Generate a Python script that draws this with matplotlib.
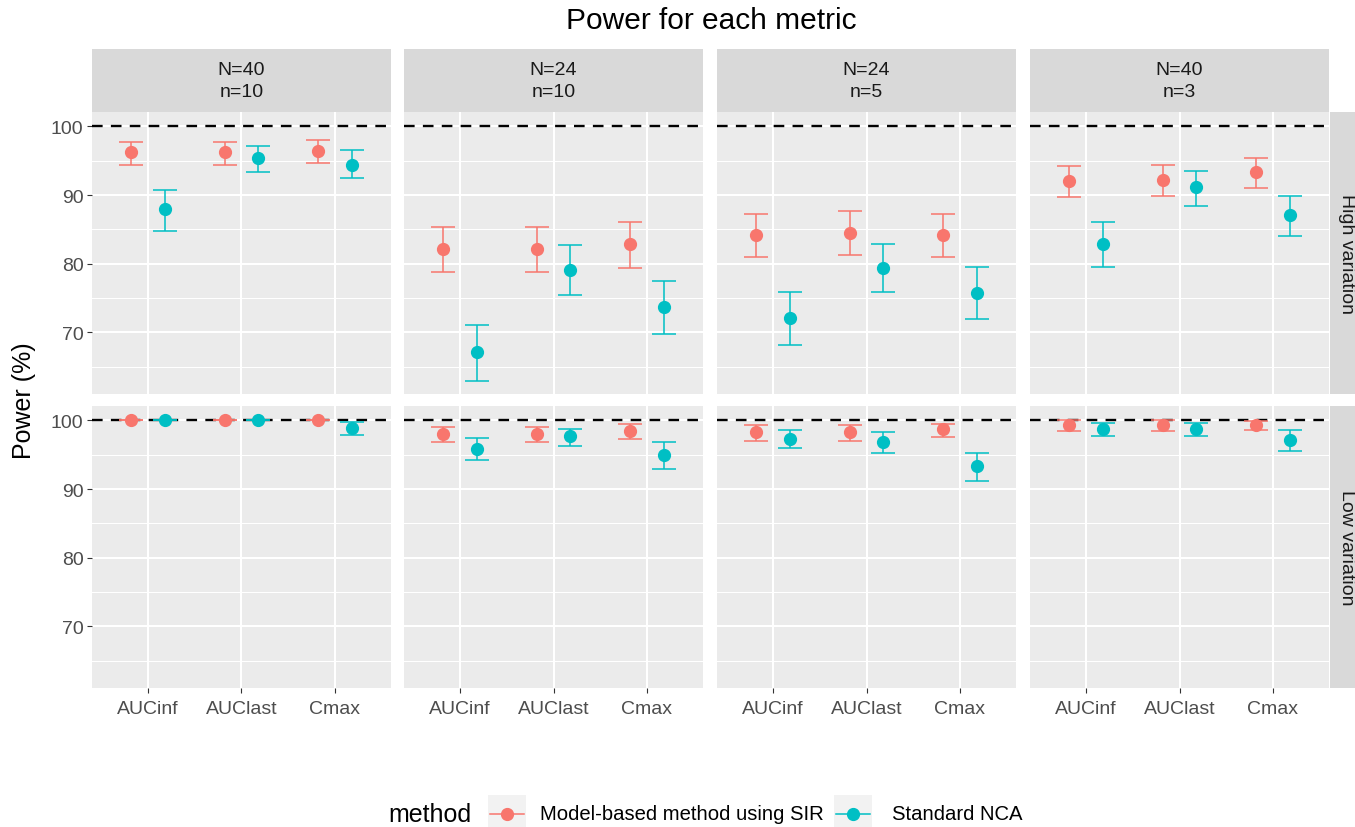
import matplotlib.pyplot as plt
import numpy as np

plt.rcParams['font.family'] = ['Liberation Sans', 'DejaVu Sans']

# ---- dati ----
panels = ['N=40\nn=10', 'N=24\nn=10', 'N=24\nn=5', 'N=40\nn=3']
metrics = ['AUCinf', 'AUClast', 'Cmax']
variations = ['High variation', 'Low variation']
methods = ['Model-based method using SIR', 'Standard NCA']

# High variation: stima, limite inferiore, limite superiore (per pannello, per metrica)
sir_high_est = [[96.2, 96.2, 96.4], [82.1, 82.1, 82.8], [84.2, 84.4, 84.2], [92.1, 92.2, 93.3]]
sir_high_lo = [[94.4, 94.4, 94.6], [78.8, 78.8, 79.3], [81.0, 81.2, 81.0], [89.7, 89.9, 91.0]]
sir_high_hi = [[97.8, 97.8, 98.0], [85.4, 85.4, 86.0], [87.3, 87.6, 87.3], [94.3, 94.4, 95.4]]
nca_high_est = [[87.9, 95.4, 94.4], [67.1, 79.0, 73.7], [72.1, 79.4, 75.7], [82.9, 91.1, 87.1]]
nca_high_lo = [[84.8, 93.4, 92.5], [62.9, 75.4, 69.7], [68.1, 75.9, 71.9], [79.5, 88.4, 84.0]]
nca_high_hi = [[90.7, 97.2, 96.5], [71.0, 82.7, 77.5], [75.9, 82.9, 79.5], [86.0, 93.5, 89.9]]

# Low variation
sir_low_est = [[100.0, 100.0, 100.0], [98.0, 98.0, 98.5], [98.3, 98.3, 98.7], [99.3, 99.3, 99.3]]
sir_low_lo = [[100.0, 100.0, 100.0], [96.8, 96.8, 97.3], [97.0, 97.0, 97.6], [98.5, 98.5, 98.6]]
sir_low_hi = [[100.0, 100.0, 100.0], [99.1, 99.1, 99.5], [99.3, 99.3, 99.5], [100.0, 100.0, 99.9]]
nca_low_est = [[100.0, 100.0, 98.9], [95.9, 97.7, 94.9], [97.3, 96.9, 93.3], [98.7, 98.7, 97.2]]
nca_low_lo = [[100.0, 100.0, 97.9], [94.2, 96.3, 92.9], [96.0, 95.3, 91.1], [97.7, 97.7, 95.5]]
nca_low_hi = [[100.0, 100.0, 99.8], [97.5, 98.8, 96.8], [98.6, 98.3, 95.3], [99.6, 99.6, 98.6]]

target = 100

series = {
    'High variation': [(sir_high_est, sir_high_lo, sir_high_hi), (nca_high_est, nca_high_lo, nca_high_hi)],
    'Low variation': [(sir_low_est, sir_low_lo, sir_low_hi), (nca_low_est, nca_low_lo, nca_low_hi)],
}

colors = ['#F8766D', '#00BFC4']
offsets = [-0.18, 0.18]

W, H = 1355, 828
fig = plt.figure(figsize=(W / 100, H / 100), dpi=100)


def rect(x0, y0, x1, y1):
    # coordinate in pixel (origine in alto a sinistra) -> frazione di figura
    return [x0 / W, 1 - y1 / H, (x1 - x0) / W, (y1 - y0) / H]


col_x = [92, 404, 717, 1030]
pw = 299
row_y = [113, 407]
ph = 282
x = np.arange(1, len(metrics) + 1)

for r, var in enumerate(variations):
    for c, pan in enumerate(panels):
        ax = fig.add_axes(rect(col_x[c], row_y[r], col_x[c] + pw, row_y[r] + ph))
        ax.set_facecolor('#EBEBEB')
        for sp in ax.spines.values():
            sp.set_visible(False)
        ax.set_xlim(0.4, 3.6)
        ax.set_ylim(61.0, 102.1)
        ax.set_xticks(x)
        ax.set_xticklabels(metrics)
        ax.set_yticks([70, 80, 90, 100])
        ax.set_yticks([65, 75, 85, 95], minor=True)
        ax.grid(which='major', color='white', lw=1.5)
        ax.grid(which='minor', axis='y', color='white', lw=0.75)
        ax.set_axisbelow(True)
        ax.tick_params(which='minor', length=0)
        ax.tick_params(which='major', length=3.6, width=0.8, color='#333333',
                       labelcolor='#4D4D4D', labelsize=14, pad=2.5)
        if c > 0:
            ax.tick_params(axis='y', length=0, labelleft=False)
        if r == 1:
            ax.tick_params(axis='x', pad=5)
        else:
            ax.tick_params(axis='x', length=0, labelbottom=False)

        ax.axhline(target, color='black', ls=(0, (4.5, 3.5)), lw=1.7, zorder=2)

        for m in range(len(methods)):
            est, lo, hi = series[var][m]
            e = np.array(est[c])
            l = np.array(lo[c])
            h = np.array(hi[c])
            ax.errorbar(x + offsets[m], e, yerr=[e - l, h - e], fmt='o', color=colors[m],
                        ms=8.5, elinewidth=1.1, capsize=8.3, capthick=1.1, zorder=3)

        # strip in alto
        if r == 0:
            st = fig.add_axes(rect(col_x[c], 50, col_x[c] + pw, 113))
            st.set_facecolor('#D9D9D9')
            st.set_xticks([])
            st.set_yticks([])
            for sp in st.spines.values():
                sp.set_visible(False)
            st.text(0.5, 0.5, pan, ha='center', va='center', fontsize=14,
                    color='#1A1A1A', linespacing=1.4, transform=st.transAxes)

    # strip a destra
    sr = fig.add_axes(rect(1330, row_y[r], 1360, row_y[r] + ph))
    sr.set_facecolor('#D9D9D9')
    sr.set_xticks([])
    sr.set_yticks([])
    for sp in sr.spines.values():
        sp.set_visible(False)
    fig.text(1346 / W, 1 - (row_y[r] + ph / 2) / H, var, rotation=-90, ha='center', va='center',
             fontsize=14, color='#1A1A1A')

fig.text(711 / W, 1 - 21 / H, 'Power for each metric', ha='center', va='center', fontsize=21.5,
         color='black')
fig.text(24 / W, 1 - 401 / H, 'Power (%)', rotation=90, ha='center', va='center', fontsize=18,
         color='black')

# legenda in basso
fig.text(388 / W, 1 - 815 / H, 'method', ha='left', va='center', fontsize=18, color='black')
key_x = [488, 834]
lab_x = [540, 892]
for m in range(len(methods)):
    k = fig.add_axes(rect(key_x[m], 796, key_x[m] + 38, 834))
    k.set_facecolor('#F2F2F2')
    k.set_xlim(0, 1)
    k.set_ylim(0, 1)
    k.set_xticks([])
    k.set_yticks([])
    for sp in k.spines.values():
        sp.set_visible(False)
    k.plot([0.05, 0.95], [0.5, 0.5], color=colors[m], lw=1.1)
    k.plot([0.5], [0.5], 'o', color=colors[m], ms=8.5)
    fig.text(lab_x[m] / W, 1 - 815 / H, methods[m], ha='left', va='center', fontsize=14.6,
             color='black')

fig.savefig('out.png', dpi=100)
